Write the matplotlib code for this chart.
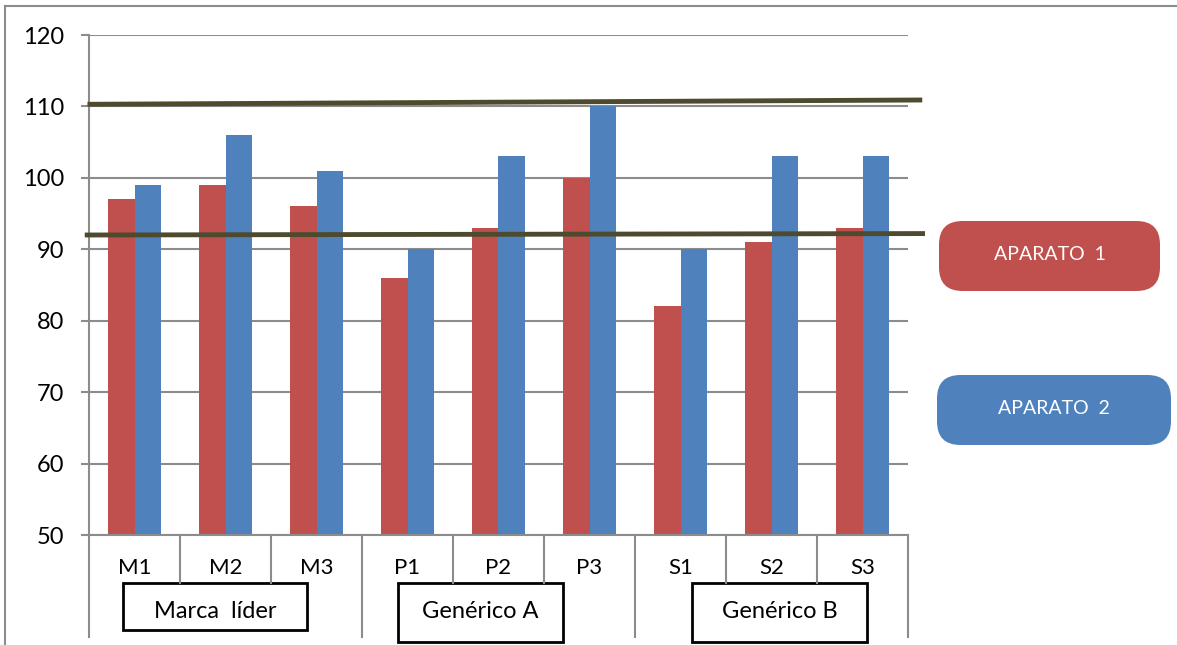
import matplotlib
matplotlib.use("Agg")
import matplotlib.pyplot as plt
from matplotlib.patches import FancyBboxPatch, Rectangle
from matplotlib.lines import Line2D

# data
labels = ["M1", "M2", "M3", "P1", "P2", "P3", "S1", "S2", "S3"]
groups = ["Marca  líder", "Genérico A", "Genérico B"]
aparato1 = [97, 99, 96, 86, 93, 100, 82, 91, 93]
aparato2 = [99, 106, 101, 90, 103, 110, 90, 103, 103]
upper_limit = [110.3, 110.9]
lower_limit = [92.0, 92.2]

RED = "#c0504d"
BLUE = "#4f81bd"
GRID = "#8c8c8c"
DARK = "#4d4a2e"

plt.rcParams["font.family"] = ["Lato", "DejaVu Sans"]

W, H = 1177, 645
fig = plt.figure(figsize=(W / 100, H / 100), dpi=100)

def fx(px):
    return px / W

def fy(py):
    return 1 - py / H

ax = fig.add_axes([fx(89), fy(535), fx(908) - fx(89), fy(35) - fy(535)])
x = list(range(len(labels)))
bw = 0.29
ax.bar([i - bw / 2 for i in x], aparato1, width=bw, color=RED, zorder=2)
ax.bar([i + bw / 2 for i in x], aparato2, width=bw, color=BLUE, zorder=2)

ax.set_xlim(-0.5, 8.5)
ax.set_ylim(50, 120)
ax.set_yticks(range(50, 121, 10))
ax.yaxis.grid(True, color=GRID, linewidth=1.5, zorder=0)
ax.set_axisbelow(True)
for s in ["top", "right"]:
    ax.spines[s].set_visible(False)
for s in ["left", "bottom"]:
    ax.spines[s].set_color(GRID)
    ax.spines[s].set_linewidth(1.5)
ax.tick_params(axis="y", length=6, width=1.5, color=GRID, labelsize=17, pad=12)
ax.set_xticks([])

# limit lines
ax.plot([-0.49, 8.63], upper_limit, color=DARK, linewidth=3.5, clip_on=False, zorder=3)
ax.plot([-0.52, 8.66], lower_limit, color=DARK, linewidth=3.5, clip_on=False, zorder=3)

# category axis dividers
for b in [-0.5, 0.5, 1.5, 2.5, 3.5, 4.5, 5.5, 6.5, 7.5, 8.5]:
    xp = 89 + (b + 0.5) * 91
    bottom = 637 if b in (-0.5, 2.5, 5.5, 8.5) else 583
    fig.add_artist(Line2D([fx(xp), fx(xp)], [fy(535), fy(bottom)], color=GRID, linewidth=1.5))
for i, lab in enumerate(labels):
    fig.text(fx(89 + (i + 0.5) * 91), fy(568), lab, ha="center", va="center", fontsize=16)

# group label boxes
boxes = [(123, 307, 583, 630), (398, 563, 583, 642), (692, 867, 583, 642)]
for (x0, x1, y0, y1), g in zip(boxes, groups):
    fig.add_artist(Rectangle((fx(x0), fy(y1)), fx(x1) - fx(x0), fy(y0) - fy(y1),
                             facecolor="white", edgecolor="black", linewidth=2))
    fig.text(fx((x0 + x1) / 2), fy(612), g, ha="center", va="center", fontsize=17)

# legend boxes
legend = [("APARATO  1", RED, 939, 1160, 221, 291), ("APARATO  2", BLUE, 937, 1171, 375, 445)]
for text, col, x0, x1, y0, y1 in legend:
    fig.add_artist(FancyBboxPatch((fx(x0), fy(y1)), fx(x1) - fx(x0), fy(y0) - fy(y1),
                                  boxstyle="round,pad=0,rounding_size=0.02",
                                  mutation_aspect=W / H,
                                  facecolor=col, edgecolor="none"))
    fig.text(fx((x0 + x1) / 2), fy((y0 + y1) / 2 - 2), text, ha="center", va="center",
             fontsize=14, color="white")

# outer frame
fig.add_artist(Line2D([fx(5), 1], [fy(6), fy(6)], color=GRID, linewidth=1.5))
fig.add_artist(Line2D([fx(5), fx(5)], [fy(6), 0], color=GRID, linewidth=1.5))

fig.savefig("out.png", dpi=100)
